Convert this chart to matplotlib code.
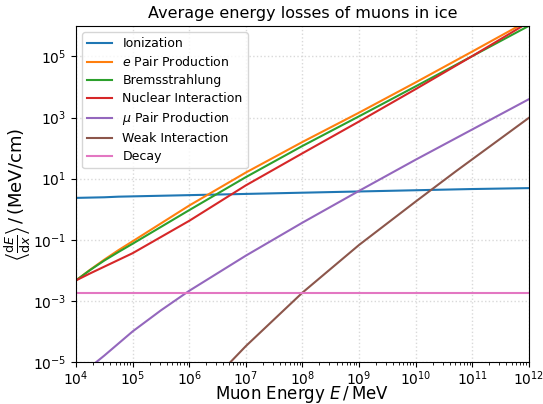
import numpy as np
import matplotlib
matplotlib.use('Agg')
import matplotlib.pyplot as plt
from matplotlib.ticker import NullLocator, LogLocator

# log10 of muon energy in MeV
log_E = [4.0, 4.25, 4.5, 4.75, 5.0, 6.0, 7.0, 8.0, 9.0, 10.0, 11.0, 12.0]

# log10 of <dE/dx> in MeV/cm
ioniz = [0.37, 0.38, 0.39, 0.41, 0.42, 0.46, 0.50, 0.54, 0.58, 0.62, 0.66, 0.69]
epair = [-2.33, -1.98, -1.65, -1.34, -1.05, 0.12, 1.20, 2.20, 3.16, 4.15, 5.16, 6.18]
brems = [-2.33, -1.99, -1.68, -1.40, -1.13, -0.03, 1.05, 2.07, 3.04, 4.02, 5.01, 6.00]
nucl = [-2.33, -2.10, -1.88, -1.66, -1.44, -0.38, 0.78, 1.83, 2.87, 3.93, 5.01, 6.12]

log_E_mu = [4.0, 4.36, 4.5, 5.0, 5.5, 6.0, 7.0, 8.0, 9.0, 10.0, 11.0, 12.0]
mupair = [-5.56, -5.0, -4.79, -4.0, -3.31, -2.67, -1.52, -0.44, 0.60, 1.62, 2.61, 3.60]

log_E_weak = [6.5, 6.73, 7.0, 8.0, 9.0, 10.0, 10.71, 12.0]
weak = [-5.45, -5.0, -4.48, -2.73, -1.17, 0.25, 1.24, 2.99]

decay_val = 1.78e-3

E = 10**np.array(log_E)
E_mu = 10**np.array(log_E_mu)
E_weak = 10**np.array(log_E_weak)

fig = plt.figure(figsize=(5.43, 4.04), dpi=100)
ax = fig.add_axes([0.140, 0.104, 0.834, 0.832])

ax.plot(E, 10**np.array(ioniz), label='Ionization', lw=1.5)
ax.plot(E, 10**np.array(epair), label=r'$e$ Pair Production', lw=1.5)
ax.plot(E, 10**np.array(brems), label='Bremsstrahlung', lw=1.5)
ax.plot(E, 10**np.array(nucl), label='Nuclear Interaction', lw=1.5)
ax.plot(E_mu, 10**np.array(mupair), label=r'$\mu$ Pair Production', lw=1.5)
ax.plot(E_weak, 10**np.array(weak), label='Weak Interaction', lw=1.5)
ax.plot([1e4, 1e12], [decay_val, decay_val], label='Decay', lw=1.5)

ax.set_xscale('log')
ax.set_yscale('log')
ax.set_xlim(1e4, 1e12)
ax.set_ylim(1e-5, 1e6)
ax.set_xticks([10.0**k for k in range(4, 13)])
ax.xaxis.set_minor_locator(LogLocator(base=10, subs=np.arange(2, 10), numticks=20))
ax.set_yticks([10.0**k for k in range(-5, 6, 2)])
ax.yaxis.set_minor_locator(NullLocator())
ax.tick_params(labelsize=10)
ax.tick_params(axis='x', pad=2)

ax.grid(True, which='major', color='#d9d9d9', linestyle=':', linewidth=1.0)

ax.set_title('Average energy losses of muons in ice', fontsize=11.5)
ax.set_xlabel('Muon Energy $E\\,/\\,$MeV', fontsize=12, va='top')
ax.xaxis.set_label_coords(0.5, -0.066)
ax.set_ylabel(r'$\left\langle\frac{\mathrm{d}E}{\mathrm{d}x}\right\rangle\,/\,$(MeV/cm)', fontsize=13, labelpad=0)
ax.legend(loc='upper left', fontsize=9, labelspacing=0.4)

fig.savefig('out.png', dpi=100)
